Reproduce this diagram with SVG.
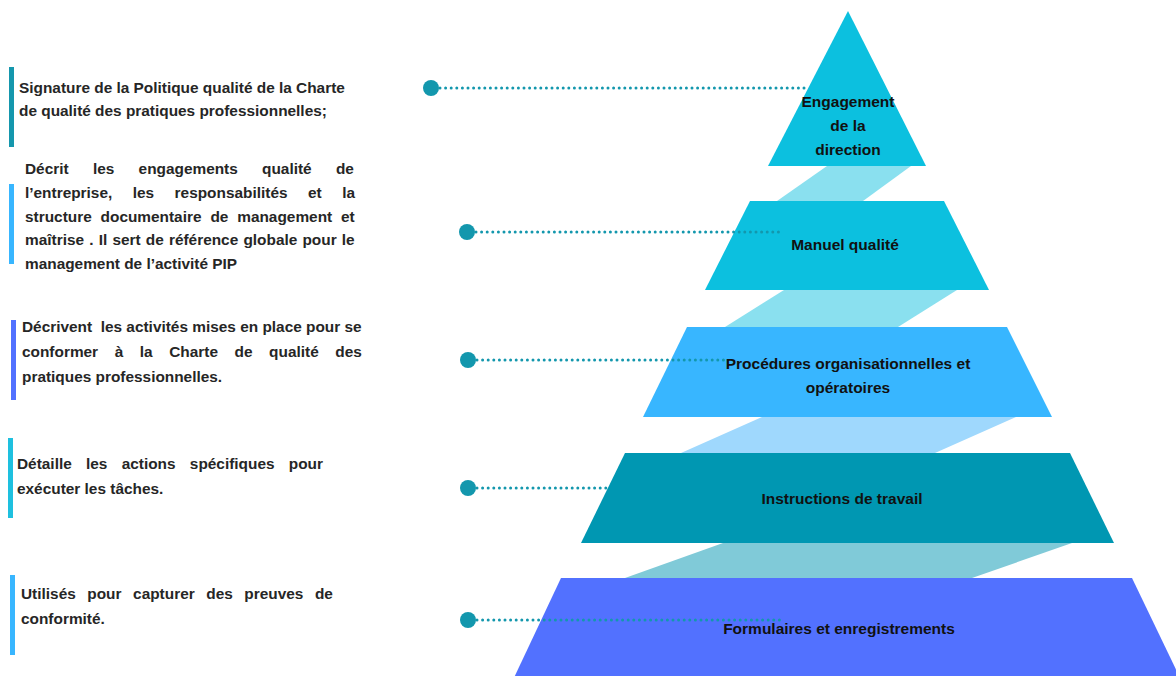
<svg xmlns="http://www.w3.org/2000/svg" width="1176" height="676" viewBox="0 0 1176 676">
<style>
.lt{font-family:"Liberation Sans",Arial,sans-serif;font-weight:bold;font-size:15.4px;fill:#262626}
.pl{font-family:"Liberation Sans",Arial,sans-serif;font-weight:bold;font-size:15.5px;fill:#111;text-anchor:middle}
.dot{stroke:#1397ad;stroke-width:3;stroke-linecap:round;stroke-dasharray:0 5.6;fill:none}
.pin{fill:#1397ad}
</style>
<rect width="1176" height="676" fill="#ffffff"/>
<g id="bands">
<polygon points="827,166 911,166 863,201 777,201" fill="#8ae0ef"/>
<polygon points="784,290 957,290 898,327 725,327" fill="#8ae0ef"/>
<polygon points="762,417 1016,417 935,453 681,453" fill="#9fd8fd"/>
<polygon points="723,543 1072,543 972,578 625,578" fill="#80cad8"/>
</g>
<g id="level1">
<polygon points="848,11 926,166 768,166" fill="#0cc0df"/>
<text class="pl" x="848" y="107">Engagement</text>
<text class="pl" x="848" y="131">de la</text>
<text class="pl" x="848" y="155">direction</text>
</g>
<g id="level2">
<polygon points="750,201 944,201 989,290 705,290" fill="#0cc0df"/>
<text class="pl" x="845" y="250">Manuel qualité</text>
</g>
<g id="level3">
<polygon points="687,327 1007,327 1052,417 643,417" fill="#38b6ff"/>
<text class="pl" x="848" y="369">Procédures organisationnelles et</text>
<text class="pl" x="848" y="393">opératoires</text>
</g>
<g id="level4">
<polygon points="625,453 1070,453 1114,543 581,543" fill="#0097b2"/>
<text class="pl" x="842" y="504">Instructions de travail</text>
</g>
<g id="level5">
<polygon points="561,578 1132,578 1182,682 512,682" fill="#5271ff"/>
<text class="pl" x="839" y="634">Formulaires et enregistrements</text>
</g>
<g id="connectors">
<line class="dot" x1="440" y1="88" x2="808" y2="88"/>
<circle class="pin" cx="431" cy="88" r="8"/>
<line class="dot" x1="476" y1="232" x2="783" y2="232"/>
<circle class="pin" cx="467" cy="232" r="8"/>
<line class="dot" x1="477" y1="360" x2="728" y2="360"/>
<circle class="pin" cx="468" cy="360" r="8"/>
<line class="dot" x1="477" y1="488" x2="608" y2="488"/>
<circle class="pin" cx="468" cy="488" r="8"/>
<line class="dot" x1="477" y1="620" x2="781" y2="620"/>
<circle class="pin" cx="468" cy="620" r="8"/>
</g>
<g id="desc1">
<rect x="9" y="67" width="5" height="80" fill="#1597ad"/>
<text class="lt" x="19" y="93">Signature de la Politique qualité de la Charte</text>
<text class="lt" x="19" y="116">de qualité des pratiques professionnelles;</text>
</g>
<g id="desc2">
<rect x="9" y="184" width="5" height="80" fill="#38b6ff"/>
<text class="lt" x="25" y="174" word-spacing="20">Décrit les engagements qualité de</text>
<text class="lt" x="25" y="198" word-spacing="16.2">l’entreprise, les responsabilités et la</text>
<text class="lt" x="25" y="221.5" word-spacing="4.6">structure documentaire de management et</text>
<text class="lt" x="25" y="245" word-spacing="0.9">maîtrise . Il sert de référence globale pour le</text>
<text class="lt" x="25" y="269">management de l’activité PIP</text>
</g>
<g id="desc3">
<rect x="11" y="320" width="5" height="80" fill="#5271ff"/>
<text class="lt" x="22" y="332">Décrivent&#160; les activités mises en place pour se</text>
<text class="lt" x="22" y="357" word-spacing="12.3">conformer à la Charte de qualité des</text>
<text class="lt" x="22" y="382">pratiques professionnelles.</text>
</g>
<g id="desc4">
<rect x="8" y="438" width="5" height="80" fill="#1ec0df"/>
<text class="lt" x="17" y="469" word-spacing="10">Détaille les actions spécifiques pour</text>
<text class="lt" x="17" y="494">exécuter les tâches.</text>
</g>
<g id="desc5">
<rect x="10" y="575" width="5" height="80" fill="#38b6ff"/>
<text class="lt" x="21" y="599" word-spacing="7.3">Utilisés pour capturer des preuves de</text>
<text class="lt" x="21" y="624">conformité.</text>
</g>
</svg>
